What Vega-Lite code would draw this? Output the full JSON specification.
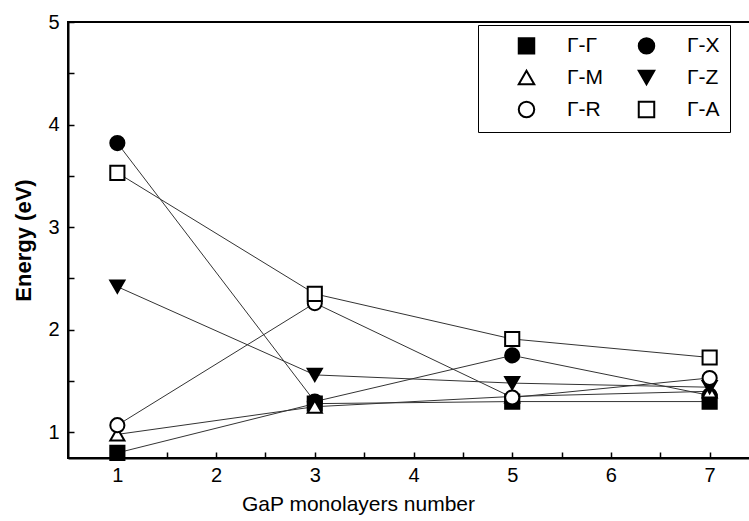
{
  "$schema": "https://vega.github.io/schema/vega-lite/v6.json",
  "autosize": "none",
  "padding": {"left": 68, "top": 22, "right": 0, "bottom": 63},
  "width": 691,
  "height": 436,
  "background": "white",
  "config": {
    "view": {"stroke": "black", "strokeWidth": 2},
    "font": "Liberation Sans",
    "axis": {"domainColor": "black", "domainWidth": 2, "tickColor": "black", "tickWidth": 1.5, "labelColor": "black", "titleColor": "black", "grid": false, "labelFont": "Liberation Sans", "titleFont": "Liberation Sans"}
  },
  "data": {"values": [
    {"n": 1, "E": 0.80, "s": "Γ-Γ"}, {"n": 3, "E": 1.28, "s": "Γ-Γ"}, {"n": 5, "E": 1.30, "s": "Γ-Γ"}, {"n": 7, "E": 1.30, "s": "Γ-Γ"},
    {"n": 1, "E": 3.82, "s": "Γ-X"}, {"n": 3, "E": 1.30, "s": "Γ-X"}, {"n": 5, "E": 1.75, "s": "Γ-X"}, {"n": 7, "E": 1.36, "s": "Γ-X"},
    {"n": 1, "E": 0.98, "s": "Γ-M"}, {"n": 3, "E": 1.25, "s": "Γ-M"}, {"n": 5, "E": 1.35, "s": "Γ-M"}, {"n": 7, "E": 1.40, "s": "Γ-M"},
    {"n": 1, "E": 2.42, "s": "Γ-Z"}, {"n": 3, "E": 1.56, "s": "Γ-Z"}, {"n": 5, "E": 1.48, "s": "Γ-Z"}, {"n": 7, "E": 1.44, "s": "Γ-Z"},
    {"n": 1, "E": 1.07, "s": "Γ-R"}, {"n": 3, "E": 2.26, "s": "Γ-R"}, {"n": 5, "E": 1.34, "s": "Γ-R"}, {"n": 7, "E": 1.53, "s": "Γ-R"},
    {"n": 1, "E": 3.53, "s": "Γ-A"}, {"n": 3, "E": 2.35, "s": "Γ-A"}, {"n": 5, "E": 1.91, "s": "Γ-A"}, {"n": 7, "E": 1.73, "s": "Γ-A"}
  ]},
  "encoding": {
    "x": {"field": "n", "type": "quantitative", "scale": {"domain": [0.5, 7.5], "nice": false, "zero": false},
      "axis": {"values": [1, 1.5, 2, 2.5, 3, 3.5, 4, 4.5, 5, 5.5, 6, 6.5, 7, 7.5], "labelExpr": "datum.value % 1 == 0 ? format(datum.value, 'd') : ''", "tickSize": -6, "labelPadding": 13, "labelFontSize": 20, "title": "GaP monolayers number", "titleFontSize": 21, "titleFontWeight": "normal", "titlePadding": 8, "titleX": 290}},
    "y": {"field": "E", "type": "quantitative", "scale": {"domain": [0.75, 5], "nice": false, "zero": false},
      "axis": {"values": [1, 1.5, 2, 2.5, 3, 3.5, 4, 4.5, 5], "labelExpr": "datum.value % 1 == 0 ? format(datum.value, 'd') : ''", "tickSize": -6, "labelPadding": 15, "labelFontSize": 20, "title": "Energy (eV)", "titleFontSize": 22, "titleFontWeight": "bold", "titlePadding": 6, "titleX": -33}}
  },
  "layer": [
    {"mark": {"type": "line", "color": "#333", "strokeWidth": 1}, "encoding": {"detail": {"field": "s"}}},
    {"mark": {"type": "point", "filled": false, "strokeWidth": 2, "size": 200, "opacity": 1},
      "encoding": {
        "shape": {"field": "s", "type": "nominal", "scale": {"domain": ["Γ-Γ", "Γ-M", "Γ-R", "Γ-X", "Γ-Z", "Γ-A"], "range": ["square", "triangle-up", "circle", "circle", "triangle-down", "square"]},
          "legend": {"orient": "none", "legendX": 410, "legendY": 3, "columns": 2, "title": null, "strokeColor": "black", "fillColor": "white", "padding": 10, "rowPadding": 8, "columnPadding": 4, "labelFontSize": 21, "labelFont": "Liberation Sans", "labelColor": "black", "symbolSize": 240, "symbolStrokeWidth": 2, "labelOffset": 30, "symbolOffset": 28}},
        "fill": {"field": "s", "type": "nominal", "scale": {"domain": ["Γ-Γ", "Γ-M", "Γ-R", "Γ-X", "Γ-Z", "Γ-A"], "range": ["black", "white", "white", "black", "black", "white"]}},
        "stroke": {"field": "s", "type": "nominal", "scale": {"domain": ["Γ-Γ", "Γ-M", "Γ-R", "Γ-X", "Γ-Z", "Γ-A"], "range": ["black", "black", "black", "black", "black", "black"]}}
      }}
  ]
}
